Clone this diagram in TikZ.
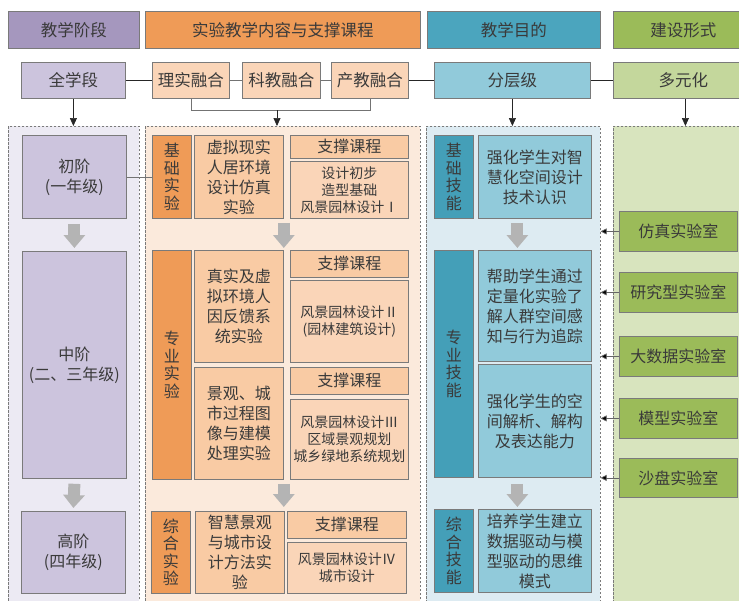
\documentclass[tikz,border=0pt]{standalone}
\usepackage{fontspec}
\setmainfont{Noto Sans CJK SC}
\usetikzlibrary{arrows.meta}
\definecolor{hpurple}{HTML}{A597BE}
\definecolor{lpurple}{HTML}{CCC4DD}
\definecolor{bgpurple}{HTML}{ECEAF3}
\definecolor{horange}{HTML}{EF9B57}
\definecolor{lorange}{HTML}{F9CBA4}
\definecolor{rorange}{HTML}{FAD5B8}
\definecolor{bgorange}{HTML}{FBEADC}
\definecolor{hteal}{HTML}{4BA5BE}
\definecolor{dteal}{HTML}{449FB8}
\definecolor{lteal}{HTML}{91CADA}
\definecolor{bgblue}{HTML}{DDEBF2}
\definecolor{hgreen}{HTML}{9BBB59}
\definecolor{lgreen}{HTML}{C4D79C}
\definecolor{bggreen}{HTML}{D8E4BE}
\definecolor{boxline}{HTML}{7A7A7A}
\definecolor{txt}{HTML}{3A3A3A}
\definecolor{garrow}{HTML}{B4B4B4}
\begin{document}
\begin{tikzpicture}[x=1pt,y=-1pt,
  box/.style={draw=boxline, line width=0.8pt, anchor=north west, inner sep=0pt,
    align=center, text=txt, font=\fontsize{16}{20}\selectfont},
  hdr/.style={box, font=\fontsize{16.5}{20}\selectfont},
  course/.style={box, font=\fontsize{14}{17}\selectfont},
  vlab/.style={box, font=\fontsize{16}{17.5}\selectfont},
  panel/.style={draw=boxline, dash pattern=on 2.5pt off 1.5pt, line width=0.6pt, anchor=north west, inner sep=0pt},
  bigarrow/.style={draw=garrow, line width=12pt, -{Triangle[width=21pt,length=13pt]}},
  blackline/.style={draw=black!85, line width=1.2pt},
  grayline/.style={draw=black!55, line width=0.7pt},
  tiparrow/.style={draw=black!85, line width=0.7pt, -{Triangle[width=7pt,length=8pt]}},
  labarrow/.style={draw=black!60, line width=0.7pt, -{Triangle[width=6pt,length=6pt,fill=black]}}
]
\useasboundingbox (0,0) rectangle (739,600);
\fill[white] (0,0) rectangle (739,600);
% headers
\node[hdr, fill=hpurple, minimum width=131pt, minimum height=37pt] (h1) at (8,11) {教学阶段};
\node[hdr, fill=horange, minimum width=275pt, minimum height=37pt] (h2) at (145,11) {实验教学内容与支撑课程};
\node[hdr, fill=hteal, minimum width=173pt, minimum height=37pt] (h3) at (427,11) {教学目的};
\node[hdr, fill=hgreen, minimum width=140pt, minimum height=37pt, text width=126pt] (h4) at (613,11) {建设形式};
% row 2
\node[hdr, fill=lpurple, minimum width=104pt, minimum height=36pt] (r1) at (21,62) {全学段};
\node[hdr, fill=rorange, minimum width=77pt, minimum height=36pt] (r2) at (152,62) {理实融合};
\node[hdr, fill=rorange, minimum width=78pt, minimum height=36pt] (r3) at (242,62) {科教融合};
\node[hdr, fill=rorange, minimum width=77pt, minimum height=36pt] (r4) at (331,62) {产教融合};
\node[hdr, fill=lteal, minimum width=156pt, minimum height=36pt] (r5) at (434,62) {分层级};
\node[hdr, fill=lgreen, minimum width=140pt, minimum height=36pt, text width=138pt] (r6) at (613,62) {多元化};
% panels
\node[panel, fill=bgpurple, minimum width=131pt, minimum height=490pt] (p1) at (8,126) {};
\node[panel, fill=bgorange, minimum width=275pt, minimum height=490pt] (p2) at (145,126) {};
\node[panel, fill=bgblue, minimum width=174pt, minimum height=490pt] (p3) at (426,126) {};
\node[panel, fill=bggreen, minimum width=140pt, minimum height=490pt] (p4) at (613,126) {};
% row-2 connectors
\draw[blackline] (r1.east) -- (r2.west);
\draw[grayline] (r2.east) -- (r3.west);
\draw[grayline] (r3.east) -- (r4.west);
\draw[blackline] (r4.east) -- (r5.west);
\draw[blackline] (r5.east) -- (r6.west);
\draw[grayline] (r2.south) -- ++(0,12) -| (r4.south);
\coordinate (brk) at (277,110);
\draw[tiparrow] (r1.south) -- (r1.south |- p1.north);
\draw[tiparrow] (brk) -- (brk |- p2.north);
\draw[tiparrow] (r5.south) -- (r5.south |- p3.north);
\draw[tiparrow] ([xshift=2pt]r6.south) -- ([xshift=2pt]r6.south |- p4.north);
% left column
\node[box, fill=lpurple, minimum width=104pt, minimum height=83pt] (a1) at (22,135) {初阶\\(一年级)};
\node[box, fill=lpurple, minimum width=104pt, minimum height=227pt] (a2) at (22,251) {中阶\\(二、三年级)};
\node[box, fill=lpurple, minimum width=104pt, minimum height=82pt] (a3) at (21,511) {高阶\\(四年级)};
% orange column
\node[vlab, fill=horange, minimum width=39pt, minimum height=83pt] (o1l) at (152,135) {基\\础\\实\\验};
\node[box, fill=lorange, minimum width=89pt, minimum height=83pt] (o1c) at (194,135) {虚拟现实\\人居环境\\设计仿真\\实验};
\node[box, fill=lorange, minimum width=118pt, minimum height=23pt] (o1h) at (290,135) {支撑课程};
\node[course, fill=rorange, minimum width=118pt, minimum height=57pt] (o1k) at (290,161) {设计初步\\造型基础\\风景园林设计Ⅰ};
\node[vlab, fill=horange, minimum width=39pt, minimum height=229pt] (o2l) at (152,250) {专\\业\\实\\验};
\node[box, fill=lorange, minimum width=89pt, minimum height=112pt] (o2c) at (194,250) {真实及虚\\拟环境人\\因反馈系\\统实验};
\node[box, fill=lorange, minimum width=118pt, minimum height=27pt] (o2h) at (290,250) {支撑课程};
\node[course, fill=rorange, minimum width=118pt, minimum height=82pt] (o2k) at (290,280) {风景园林设计Ⅱ\\(园林建筑设计)};
\node[box, fill=lorange, minimum width=89pt, minimum height=112pt] (o3c) at (194,367) {景观、城\\市过程图\\像与建模\\处理实验};
\node[box, fill=lorange, minimum width=118pt, minimum height=27pt] (o3h) at (290,367) {支撑课程};
\node[course, fill=rorange, minimum width=118pt, minimum height=80pt] (o3k) at (290,399) {风景园林设计Ⅲ\\区域景观规划\\城乡绿地系统规划};
\node[vlab, fill=horange, minimum width=39pt, minimum height=82pt] (o4l) at (151,511) {综\\合\\实\\验};
\node[box, fill=lorange, minimum width=89pt, minimum height=82pt] (o4c) at (195,511) {智慧景观\\与城市设\\计方法实\\验};
\node[box, fill=lorange, minimum width=119pt, minimum height=27pt] (o4h) at (287,511) {支撑课程};
\node[course, fill=rorange, minimum width=119pt, minimum height=51pt] (o4k) at (287,542) {风景园林设计Ⅳ\\城市设计};
% blue column
\node[vlab, fill=dteal, minimum width=39pt, minimum height=83pt] (b1l) at (434,135) {基\\础\\技\\能};
\node[box, fill=lteal, minimum width=113pt, minimum height=83pt] (b1c) at (478,135) {强化学生对智\\慧化空间设计\\技术认识};
\node[vlab, fill=dteal, minimum width=39pt, minimum height=227pt] (b2l) at (434,250) {专\\业\\技\\能};
\node[box, fill=lteal, minimum width=113pt, minimum height=111pt] (b2c) at (478,250) {帮助学生通过\\定量化实验了\\解人群空间感\\知与行为追踪};
\node[box, fill=lteal, minimum width=113pt, minimum height=113pt] (b3c) at (478,364) {强化学生的空\\间解析、解构\\及表达能力};
\node[vlab, fill=dteal, minimum width=39pt, minimum height=83pt] (b4l) at (434,509) {综\\合\\技\\能};
\node[box, fill=lteal, minimum width=113pt, minimum height=83pt] (b4c) at (478,509) {培养学生建立\\数据驱动与模\\型驱动的思维\\模式};
% green column
\node[box, fill=hgreen, minimum width=118pt, minimum height=40pt] (g1) at (619,211) {仿真实验室};
\node[box, fill=hgreen, minimum width=118pt, minimum height=40pt] (g2) at (619,272) {研究型实验室};
\node[box, fill=hgreen, minimum width=118pt, minimum height=40pt] (g3) at (619,336) {大数据实验室};
\node[box, fill=hgreen, minimum width=118pt, minimum height=40pt] (g4) at (619,398) {模型实验室};
\node[box, fill=hgreen, minimum width=118pt, minimum height=39pt] (g5) at (619,458) {沙盘实验室};
\foreach \g in {g1,g2,g3,g4,g5}
  \draw[labarrow] (\g.west) -- (\g.west -| p3.east);
% other connectors
\draw[grayline] (a1.east) -- (o1l.west);
\draw[bigarrow] ([yshift=-5pt]a1.south) -- ([yshift=3pt]a2.north);
\draw[bigarrow] ([yshift=-5pt]a2.south) -- ([yshift=3pt]a3.north);
\draw[bigarrow] ([yshift=-4pt]o1c.south east) -- ([yshift=2pt]o2c.north east);
\draw[bigarrow] ([yshift=-4pt]o3c.south east) -- ([xshift=-1pt,yshift=4pt]o4c.north east);
\draw[bigarrow] ([xshift=-17.5pt,yshift=-4pt]b1c.south) -- ([xshift=-17.5pt,yshift=2pt]b2c.north);
\draw[bigarrow] ([xshift=-17.5pt,yshift=-6pt]b3c.south) -- ([xshift=-17.5pt,yshift=2pt]b4c.north);
\end{tikzpicture}
\end{document}
